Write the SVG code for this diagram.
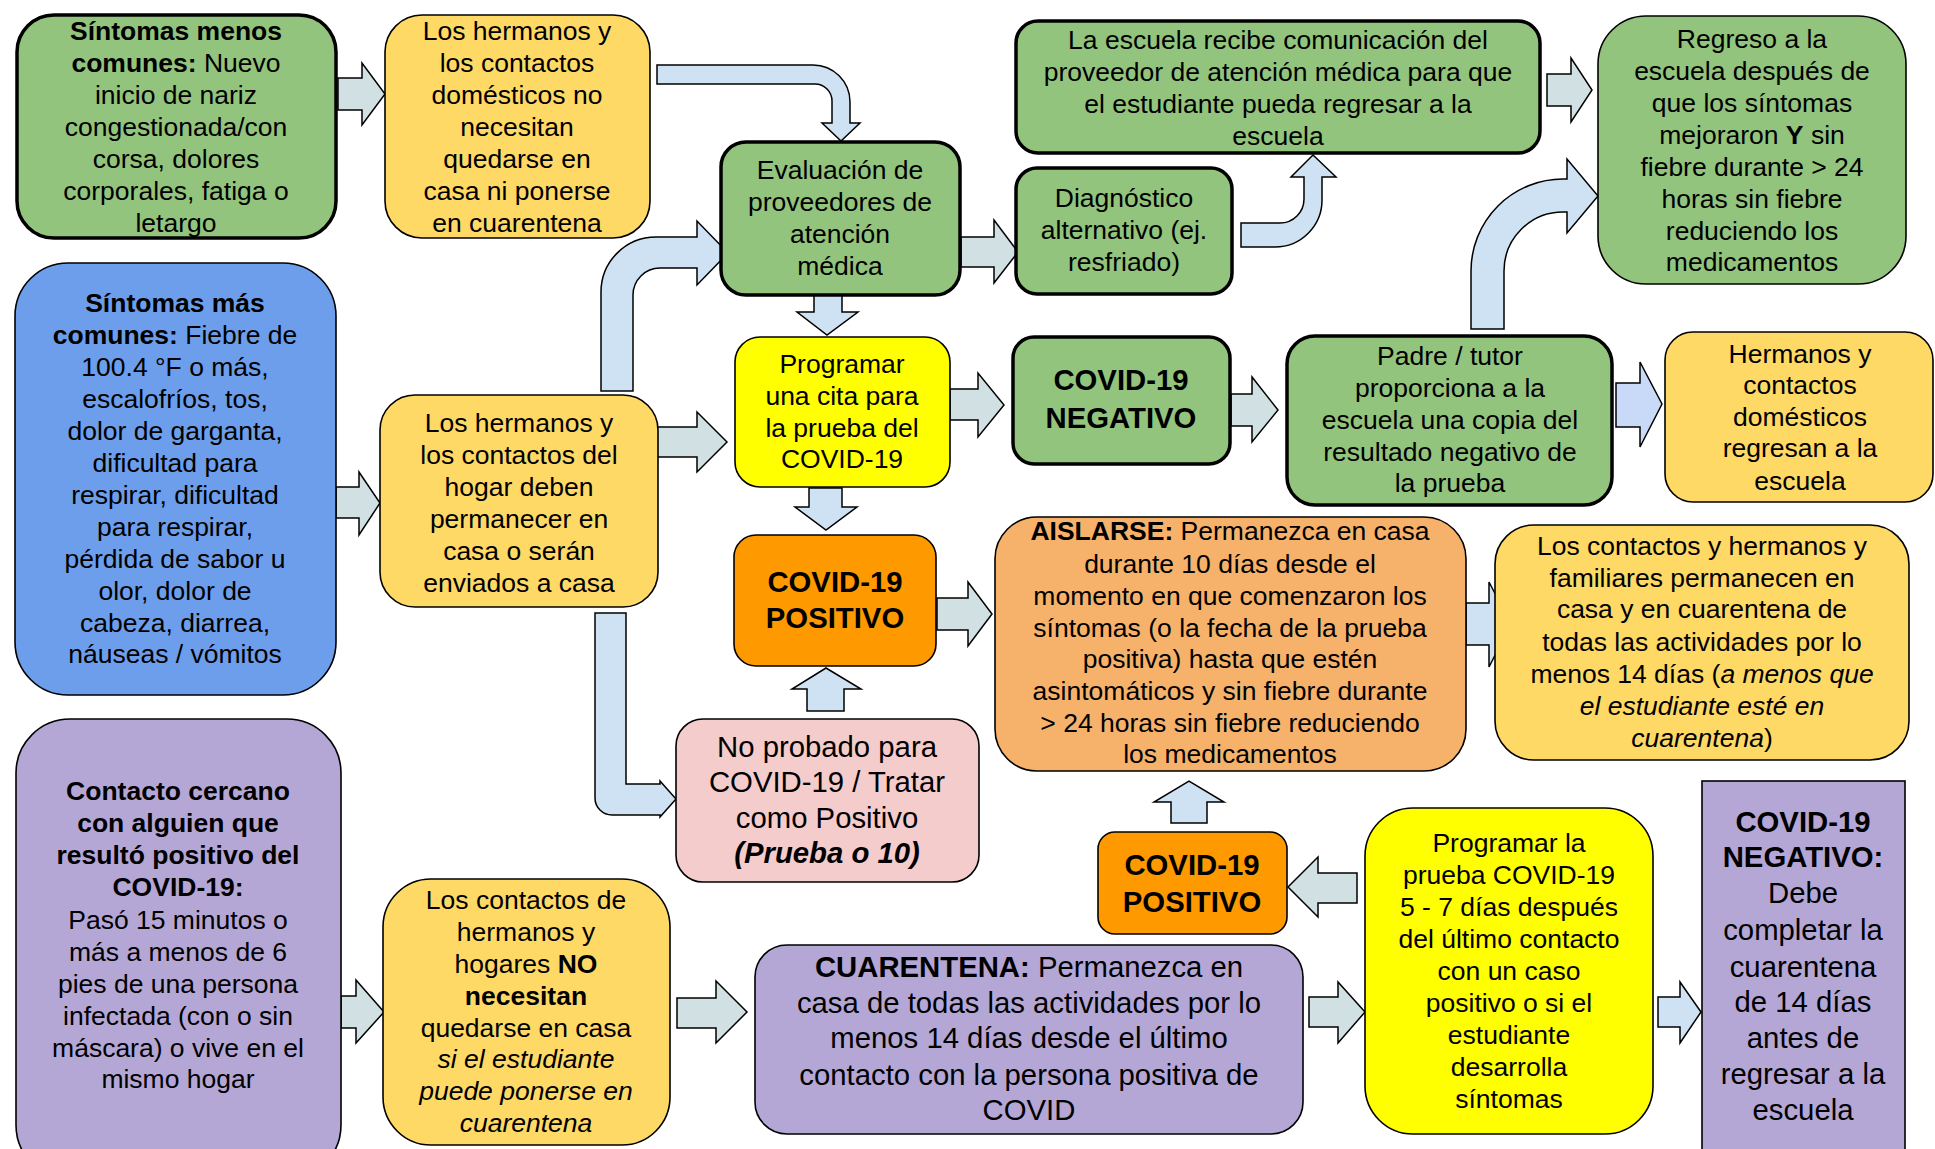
<svg xmlns="http://www.w3.org/2000/svg" width="1935" height="1149" viewBox="0 0 1935 1149">
<style>
text{font-family:"Liberation Sans",Arial,sans-serif;font-size:26.5px;fill:#000;text-anchor:middle}
.big{font-size:29.3px}
.b{font-weight:bold}
.i{font-style:italic}
.n{stroke:#000;stroke-width:1.6}
.thick{stroke:#000;stroke-width:3.5}
.green{fill:#93c47d}
.ylw{fill:#ffd966}
.blue{fill:#6d9eeb}
.byl{fill:#ffff00}
.org{fill:#ff9900}
.lorg{fill:#f6b26b}
.pink{fill:#f4cccc}
.purp{fill:#b4a7d6}
.ag{fill:#d0e0e3;stroke:#000;stroke-width:1.5;stroke-linejoin:miter}
.ab{fill:#cfe2f3;stroke:#000;stroke-width:1.5;stroke-linejoin:miter}
.al{fill:#c9daf8;stroke:#000;stroke-width:1.5;stroke-linejoin:miter}
</style>
<rect width="1935" height="1149" fill="#fff"/>
<g id="connectors">
<polygon class="ag" points="338,78 362,78 362,63 385,94 362,125 362,110 338,110"/>
<path class="ab" d="M657,65 L813,65 A37,37 0 0 1 850,102 L850,123 L860,123 L841,141 L822,123 L832,123 L832,101 A17,17 0 0 0 815,84 L657,84 Z"/>
<path class="ab" d="M601,391 L601,292 A55,55 0 0 1 656,237 L697,237 L697,221 L728,253 L697,285 L697,268 L660,268 A27,27 0 0 0 633,295 L633,391 Z"/>
<polygon class="ag" points="657,427 697,427 697,412 727,442 697,472 697,457 657,457"/>
<polygon class="ag" points="336,487 359,487 359,472 380,503 359,535 359,518 336,518"/>
<polygon class="ab" points="814,295 842,295 842,312 858,312 827,335 797,312 814,312"/>
<polygon class="ag" points="961,237 994,237 994,220 1018,252 994,283 994,267 961,267"/>
<path class="ab" d="M1241,223 L1280,223 A24,24 0 0 0 1304,199 L1304,177 L1291,177 L1313,155 L1336,177 L1322,177 L1322,200 A47,47 0 0 1 1275,247 L1241,247 Z"/>
<polygon class="ag" points="1547,74 1571,74 1571,58 1592,90 1571,122 1571,106 1547,106"/>
<path class="ab" d="M1471,329 L1471,271 A92,92 0 0 1 1563,179 L1567,179 L1567,159 L1598,196 L1567,233 L1567,212 L1563,212 A59,59 0 0 0 1504,271 L1504,329 Z"/>
<polygon class="ag" points="950,389 978,389 978,373 1004,405 978,437 978,420 950,420"/>
<polygon class="ag" points="1231,394 1252,394 1252,377 1278,410 1252,442 1252,426 1231,426"/>
<polygon class="al" points="1616,383 1640,383 1640,362 1662,404 1640,447 1640,427 1616,427"/>
<polygon class="ab" points="809,488 842,488 842,507 857,507 826,530 795,507 809,507"/>
<polygon class="ag" points="937,598 968,598 968,582 992,614 968,646 968,630 937,630"/>
<polygon class="ab" points="807,711 807,689 792,689 826,668 861,689 844,689 844,711"/>
<polygon class="ab" points="1466,603 1489,603 1489,582 1511,624 1489,667 1489,645 1466,645"/>
<path class="ab" d="M595,613 L626,613 L626,784 L660,784 L660,781 L676,799 L660,817 L660,815 L612,815 A17,17 0 0 1 595,798 Z"/>
<polygon class="ag" points="341,996 356,996 356,980 384,1012 356,1043 356,1028 341,1028"/>
<polygon class="ag" points="677,998 716,998 716,981 747,1012 716,1043 716,1028 677,1028"/>
<polygon class="ag" points="1309,997 1338,997 1338,982 1365,1012 1338,1043 1338,1027 1309,1027"/>
<polygon class="ag" points="1357,873 1318,873 1318,857 1288,887 1318,917 1318,903 1357,903"/>
<polygon class="ab" points="1171,823 1171,802 1154,802 1189,781 1224,802 1207,802 1207,823"/>
<polygon class="ab" points="1658,997 1680,997 1680,982 1701,1012 1680,1043 1680,1027 1658,1027"/>
</g>
<g id="n1">
<rect class="green thick" x="17" y="15" width="319" height="223" rx="37"/>
<text x="176" y="40" class="b">Síntomas menos</text>
<text x="176" y="72"><tspan class="b">comunes:</tspan> Nuevo</text>
<text x="176" y="104">inicio de nariz</text>
<text x="176" y="136">congestionada/con</text>
<text x="176" y="168">corsa, dolores</text>
<text x="176" y="200">corporales, fatiga o</text>
<text x="176" y="232">letargo</text>
</g>
<g id="n2">
<rect class="ylw n" x="385" y="15" width="265" height="223" rx="37"/>
<text x="517" y="40">Los hermanos y</text>
<text x="517" y="72">los contactos</text>
<text x="517" y="104">domésticos no</text>
<text x="517" y="136">necesitan</text>
<text x="517" y="168">quedarse en</text>
<text x="517" y="200">casa ni ponerse</text>
<text x="517" y="232">en cuarentena</text>
</g>
<g id="n3">
<rect class="green thick" x="1016" y="21" width="524" height="132" rx="22"/>
<text x="1278" y="49">La escuela recibe comunicación del</text>
<text x="1278" y="81">proveedor de atención médica para que</text>
<text x="1278" y="113">el estudiante pueda regresar a la</text>
<text x="1278" y="145">escuela</text>
</g>
<g id="n4">
<rect class="green n" x="1598" y="16" width="308" height="268" rx="48"/>
<text x="1752" y="48">Regreso a la</text>
<text x="1752" y="80">escuela después de</text>
<text x="1752" y="112">que los síntomas</text>
<text x="1752" y="144">mejoraron <tspan class="b">Y</tspan> sin</text>
<text x="1752" y="176">fiebre durante &gt; 24</text>
<text x="1752" y="208">horas sin fiebre</text>
<text x="1752" y="240">reduciendo los</text>
<text x="1752" y="271">medicamentos</text>
</g>
<g id="n5">
<rect class="green thick" x="721" y="142" width="239" height="153" rx="25"/>
<text x="840" y="179">Evaluación de</text>
<text x="840" y="211">proveedores de</text>
<text x="840" y="243">atención</text>
<text x="840" y="275">médica</text>
</g>
<g id="n6">
<rect class="green thick" x="1016" y="168" width="216" height="126" rx="21"/>
<text x="1124" y="207">Diagnóstico</text>
<text x="1124" y="239">alternativo (ej.</text>
<text x="1124" y="271">resfriado)</text>
</g>
<g id="n7">
<rect class="blue n" x="15" y="263" width="321" height="432" rx="53"/>
<text x="175" y="312" class="b">Síntomas más</text>
<text x="175" y="344"><tspan class="b">comunes:</tspan> Fiebre de</text>
<text x="175" y="376">100.4 °F o más,</text>
<text x="175" y="408">escalofríos, tos,</text>
<text x="175" y="440">dolor de garganta,</text>
<text x="175" y="472">dificultad para</text>
<text x="175" y="504">respirar, dificultad</text>
<text x="175" y="536">para respirar,</text>
<text x="175" y="568">pérdida de sabor u</text>
<text x="175" y="600">olor, dolor de</text>
<text x="175" y="632">cabeza, diarrea,</text>
<text x="175" y="663">náuseas / vómitos</text>
</g>
<g id="n8">
<rect class="ylw n" x="380" y="395" width="278" height="212" rx="35"/>
<text x="519" y="432">Los hermanos y</text>
<text x="519" y="464">los contactos del</text>
<text x="519" y="496">hogar deben</text>
<text x="519" y="528">permanecer en</text>
<text x="519" y="560">casa o serán</text>
<text x="519" y="592">enviados a casa</text>
</g>
<g id="n9">
<rect class="byl n" x="735" y="337" width="215" height="150" rx="25"/>
<text x="842" y="373">Programar</text>
<text x="842" y="405">una cita para</text>
<text x="842" y="437">la prueba del</text>
<text x="842" y="468">COVID-19</text>
</g>
<g id="n10">
<rect class="green thick" x="1013" y="337" width="217" height="127" rx="21"/>
<text x="1121" y="390" class="big b">COVID-19</text>
<text x="1121" y="428" class="big b">NEGATIVO</text>
</g>
<g id="n11">
<rect class="green thick" x="1287" y="336" width="325" height="169" rx="28"/>
<text x="1450" y="365">Padre / tutor</text>
<text x="1450" y="397">proporciona a la</text>
<text x="1450" y="429">escuela una copia del</text>
<text x="1450" y="461">resultado negativo de</text>
<text x="1450" y="492">la prueba</text>
</g>
<g id="n12">
<rect class="ylw n" x="1665" y="332" width="268" height="170" rx="28"/>
<text x="1800" y="363">Hermanos y</text>
<text x="1800" y="394">contactos</text>
<text x="1800" y="426">domésticos</text>
<text x="1800" y="457">regresan a la</text>
<text x="1800" y="490">escuela</text>
</g>
<g id="n13">
<rect class="org n" x="734" y="535" width="202" height="131" rx="22"/>
<text x="835" y="592" class="big b">COVID-19</text>
<text x="835" y="628" class="big b">POSITIVO</text>
</g>
<g id="n14">
<rect class="lorg n" x="995" y="517" width="471" height="254" rx="42"/>
<text x="1230" y="540"><tspan class="b">AISLARSE:</tspan> Permanezca en casa</text>
<text x="1230" y="573">durante 10 días desde el</text>
<text x="1230" y="605">momento en que comenzaron los</text>
<text x="1230" y="637">síntomas (o la fecha de la prueba</text>
<text x="1230" y="668">positiva) hasta que estén</text>
<text x="1230" y="700">asintomáticos y sin fiebre durante</text>
<text x="1230" y="732">&gt; 24 horas sin fiebre reduciendo</text>
<text x="1230" y="763">los medicamentos</text>
</g>
<g id="n15">
<rect class="ylw n" x="1495" y="525" width="414" height="235" rx="39"/>
<text x="1702" y="555">Los contactos y hermanos y</text>
<text x="1702" y="587">familiares permanecen en</text>
<text x="1702" y="618">casa y en cuarentena de</text>
<text x="1702" y="651">todas las actividades por lo</text>
<text x="1702" y="683">menos 14 días (<tspan class="i">a menos que</tspan></text>
<text x="1702" y="715" class="i">el estudiante esté en</text>
<text x="1702" y="747"><tspan class="i">cuarentena</tspan>)</text>
</g>
<g id="n16">
<rect class="pink n" x="676" y="719" width="303" height="163" rx="27"/>
<text x="827" y="757" class="big">No probado para</text>
<text x="827" y="792" class="big">COVID-19 / Tratar</text>
<text x="827" y="828" class="big">como Positivo</text>
<text x="827" y="863" class="big b i">(Prueba o 10)</text>
</g>
<g id="n17">
<rect class="purp n" x="16" y="719" width="325" height="460" rx="54"/>
<text x="178" y="800" class="b">Contacto cercano</text>
<text x="178" y="832" class="b">con alguien que</text>
<text x="178" y="864" class="b">resultó positivo del</text>
<text x="178" y="896" class="b">COVID-19:</text>
<text x="178" y="929">Pasó 15 minutos o</text>
<text x="178" y="961">más a menos de 6</text>
<text x="178" y="993">pies de una persona</text>
<text x="178" y="1025">infectada (con o sin</text>
<text x="178" y="1057">máscara) o vive en el</text>
<text x="178" y="1088">mismo hogar</text>
</g>
<g id="n18">
<rect class="ylw n" x="383" y="879" width="287" height="266" rx="48"/>
<text x="526" y="909">Los contactos de</text>
<text x="526" y="941">hermanos y</text>
<text x="526" y="973">hogares <tspan class="b">NO</tspan></text>
<text x="526" y="1005" class="b">necesitan</text>
<text x="526" y="1037">quedarse en casa</text>
<text x="526" y="1068" class="i">si el estudiante</text>
<text x="526" y="1100" class="i">puede ponerse en</text>
<text x="526" y="1132" class="i">cuarentena</text>
</g>
<g id="n19">
<rect class="org n" x="1098" y="832" width="189" height="102" rx="17"/>
<text x="1192" y="875" class="big b">COVID-19</text>
<text x="1192" y="912" class="big b">POSITIVO</text>
</g>
<g id="n20">
<rect class="byl n" x="1365" y="808" width="288" height="326" rx="48"/>
<text x="1509" y="852">Programar la</text>
<text x="1509" y="884">prueba COVID-19</text>
<text x="1509" y="916">5 - 7 días después</text>
<text x="1509" y="948">del último contacto</text>
<text x="1509" y="980">con un caso</text>
<text x="1509" y="1012">positivo o si el</text>
<text x="1509" y="1044">estudiante</text>
<text x="1509" y="1076">desarrolla</text>
<text x="1509" y="1108">síntomas</text>
</g>
<g id="n21">
<rect class="purp n" x="755" y="945" width="548" height="189" rx="32"/>
<text x="1029" y="977" class="big"><tspan class="b">CUARENTENA:</tspan> Permanezca en</text>
<text x="1029" y="1013" class="big">casa de todas las actividades por lo</text>
<text x="1029" y="1048" class="big">menos 14 días desde el último</text>
<text x="1029" y="1085" class="big">contacto con la persona positiva de</text>
<text x="1029" y="1120" class="big">COVID</text>
</g>
<g id="n22">
<rect class="purp n" x="1702" y="781" width="203" height="400"/>
<text x="1803" y="832" class="big b">COVID-19</text>
<text x="1803" y="867" class="big b">NEGATIVO:</text>
<text x="1803" y="903" class="big">Debe</text>
<text x="1803" y="940" class="big">completar la</text>
<text x="1803" y="977" class="big">cuarentena</text>
<text x="1803" y="1012" class="big">de 14 días</text>
<text x="1803" y="1048" class="big">antes de</text>
<text x="1803" y="1084" class="big">regresar a la</text>
<text x="1803" y="1120" class="big">escuela</text>
</g>
</svg>
